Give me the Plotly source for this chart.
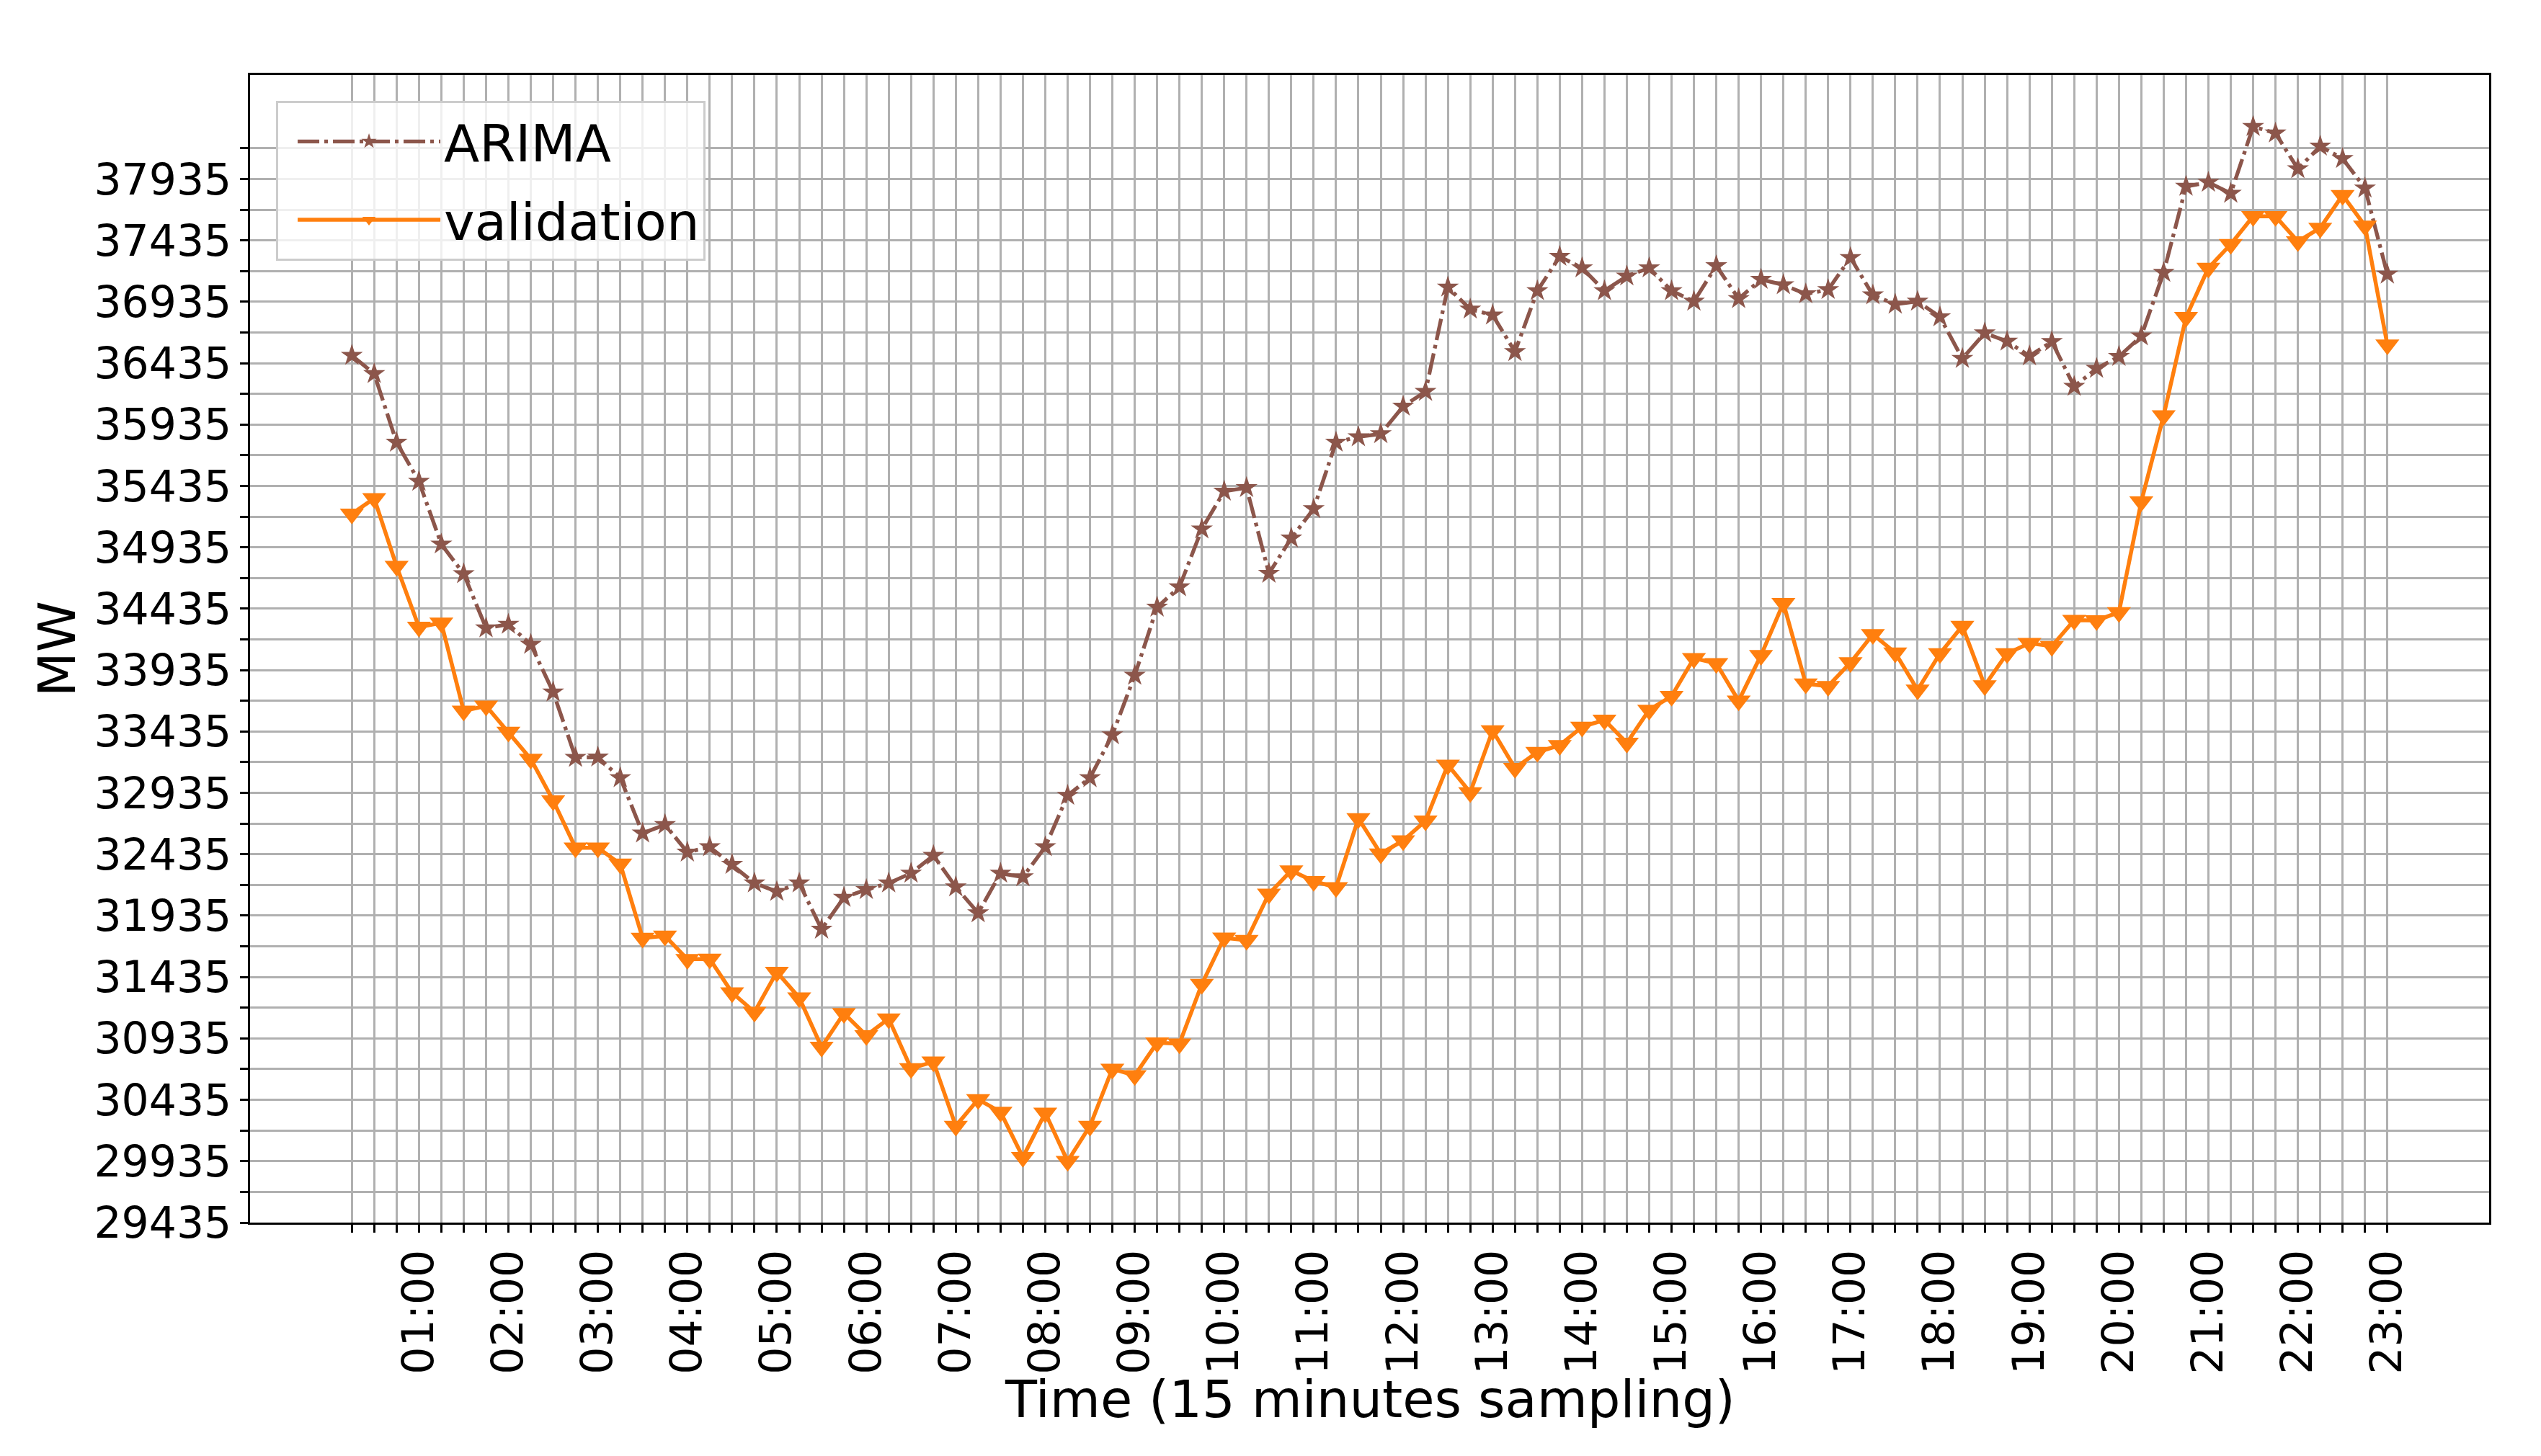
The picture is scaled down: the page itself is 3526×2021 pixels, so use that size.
import plotly.graph_objects as go

# --- data -------------------------------------------------------------
times = [f"{(15 * k) // 60:02d}:{(15 * k) % 60:02d}" for k in range(1, 93)]  # 00:15 .. 23:00
x_tick_text = [t if t.endswith(":00") else "" for t in times]

arima = [
    36498, 36349, 35790, 35472, 34961, 34719, 34278, 34308, 34144, 33756,
    33223, 33226, 33058, 32607, 32676, 32452, 32495, 32352, 32200, 32131,
    32200, 31824, 32083, 32147, 32200, 32280, 32425, 32169, 31957, 32280,
    32250, 32495, 32914, 33058, 33407, 33892, 34447, 34612, 35084, 35392,
    35421, 34723, 35010, 35249, 35791, 35835, 35860, 36084, 36204, 37054,
    36875, 36827, 36528, 37025, 37304, 37211, 37025, 37144, 37211, 37025,
    36939, 37228, 36960, 37117, 37073, 36999, 37034, 37295, 36990, 36915,
    36939, 36812, 36473, 36681, 36613, 36494, 36611, 36245, 36392, 36489,
    36656, 37174, 37875, 37908, 37818, 38362, 38309, 38018, 38202, 38102,
    37861, 37160,
]

validation = [
    35208, 35334, 34782, 34286, 34320, 33603, 33644, 33432, 33211, 32872,
    32488, 32488, 32357, 31753, 31770, 31580, 31583, 31308, 31150, 31476,
    31267, 30865, 31140, 30960, 31096, 30691, 30745, 30222, 30438, 30336,
    29968, 30329, 29935, 30222, 30687, 30633, 30900, 30892, 31377, 31755,
    31735, 32113, 32302, 32215, 32166, 32727, 32440, 32547, 32708, 33163,
    32939, 33443, 33137, 33267, 33323, 33473, 33529, 33342, 33611, 33723,
    34032, 33990, 33685, 34056, 34481, 33825, 33804, 33997, 34226, 34077,
    33774, 34071, 34294, 33810, 34071, 34154, 34130, 34342, 34340, 34406,
    35308, 36009, 36810, 37210, 37404, 37631, 37631, 37427, 37537, 37804,
    37554, 36586,
]

y_ticks = list(range(29435, 38186, 250))
y_tick_text = [str(v) if (v - 29435) % 500 == 0 else "" for v in y_ticks]

x_title = "Time (15 minutes sampling)"
y_title = "MW"

# --- figure -----------------------------------------------------------
FONT = "DejaVu Sans"
BROWN = "#8c564b"
ORANGE = "#ff7f0e"
GRID = "#b0b0b0"

fig = go.Figure()
fig.add_trace(go.Scatter(
    x=times, y=arima, name="ARIMA", mode="lines+markers", legendgroup="a",
    line=dict(color=BROWN, width=5.3, dash="30px,7px,5px,7px"),
    marker=dict(symbol="star", size=23, color=BROWN),
))
fig.add_trace(go.Scatter(
    x=times, y=validation, name="validation", mode="lines+markers", legendgroup="b",
    line=dict(color=ORANGE, width=5.5),
    marker=dict(symbol="triangle-down", size=29, color=ORANGE),
))

n = len(times)
x_margin = 0.05 * (n - 1)
all_vals = arima + validation
span = max(all_vals) - min(all_vals)
y_lo = min(y_ticks[0], min(all_vals) - 0.05 * span)
y_hi = max(y_ticks[-1], max(all_vals) + 0.05 * span)

axis_common = dict(
    showgrid=True, gridcolor=GRID, gridwidth=2.7,
    showline=True, linecolor="black", linewidth=2.5, mirror=True,
    ticks="outside", ticklen=11, tickwidth=2.5, tickcolor="black",
    zeroline=False,
    tickfont=dict(family=FONT, size=60, color="black"),
)

fig.update_layout(
    width=3526, height=2021,
    margin=dict(l=347, r=72, t=104, b=324, pad=0),
    paper_bgcolor="white", plot_bgcolor="white",
    font=dict(family=FONT, color="black"),
    xaxis=dict(
        type="category", categoryorder="array", categoryarray=times,
        range=[-x_margin, n - 1 + x_margin],
        tickmode="array", tickvals=times, ticktext=x_tick_text, tickangle=-90,
        **axis_common,
    ),
    yaxis=dict(
        range=[y_lo, y_hi],
        tickmode="array", tickvals=y_ticks, ticktext=y_tick_text,
        **axis_common,
    ),
    legend=dict(
        x=0.0116, y=0.9774, xanchor="left", yanchor="top",
        bgcolor="rgba(255,255,255,0.8)", bordercolor="#cccccc", borderwidth=3,
        font=dict(family=FONT, size=72, color="black"),
        itemwidth=198, indentation=22, tracegroupgap=12,
    ),
    showlegend=True,
    annotations=[
        dict(text=x_title, xref="paper", yref="paper", x=0.5, y=-0.1538,
             xanchor="center", yanchor="middle", showarrow=False,
             font=dict(family=FONT, size=72, color="black")),
        dict(text=y_title, xref="paper", yref="paper", x=-0.0863, y=0.5,
             xanchor="center", yanchor="middle", textangle=-90, showarrow=False,
             font=dict(family=FONT, size=72, color="black")),
    ],
)

fig.write_html(
    "out.html",
    config={"displayModeBar": False},
    post_script="document.body.style.margin='0';document.body.style.overflow='hidden';",
)
